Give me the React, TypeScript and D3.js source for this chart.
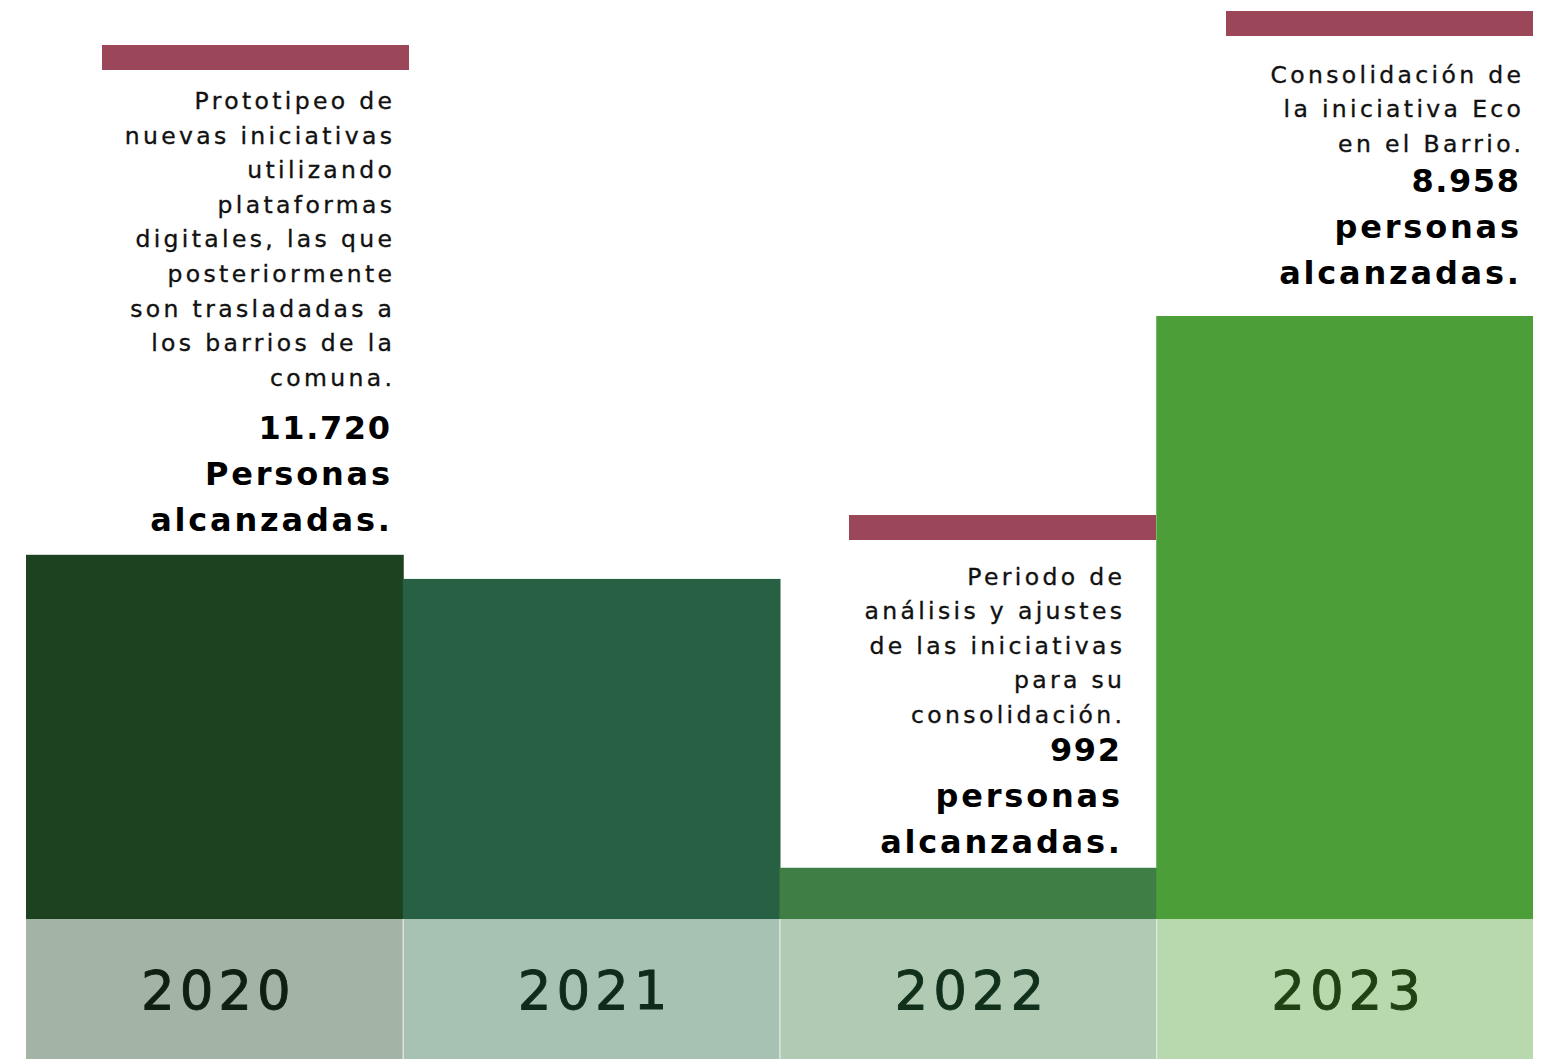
import React from 'react';
import * as d3 from 'd3';

// ---------- data ----------
const years = ['2020', '2021', '2022', '2023'];
// bar heights as drawn (relative, % of the tallest bar)
const barLevels = [60.4, 56.4, 8.5, 100];
// people reached (null = not reported)
const reached: (number | null)[] = [11720, null, 992, 8958];
const reachedWord = ['Personas', '', 'personas', 'personas'];
const reachedTail = 'alcanzadas.';
const descriptions: string[][] = [
  ['Prototipeo de', 'nuevas iniciativas', 'utilizando', 'plataformas', 'digitales, las que', 'posteriormente', 'son trasladadas a', 'los barrios de la', 'comuna.'],
  [],
  ['Periodo de', 'análisis y ajustes', 'de las iniciativas', 'para su', 'consolidación.'],
  ['Consolidación de', 'la iniciativa Eco', 'en el Barrio.'],
];

// ---------- styles ----------
const barColors = ['#1c4220', '#276043', '#3f7f46', '#4c9e38'];
const baseColors = ['#a3b3a5', '#a7c1b3', '#b1cab4', '#b8d8ae'];
const yearColors = ['#0f2011', '#0f2a1b', '#11301c', '#1e4214'];
const accent = '#9c4759';
const FONT = "'DejaVu Sans', 'Lato', sans-serif";

// ---------- layout ----------
const W = 1548;
const H = 1059;
const baseY = 919;
const topY = 316;
const noteLayout: Record<string, { barX: number; barY: number; right: number; first: number; bold: number }> = {
  '2020': { barX: 102, barY: 45, right: 392, first: 109, bold: 439 },
  '2022': { barX: 849, barY: 515, right: 1122, first: 584.5, bold: 761 },
  '2023': { barX: 1226, barY: 11, right: 1521, first: 82.5, bold: 192 },
};

const locale = d3.formatLocale({ decimal: ',', thousands: '.', grouping: [3], currency: ['', ''] });
const fmt = locale.format(',d');

export default function App() {
  const x = d3.scaleBand<string>().domain(years).range([26, 1533]).padding(0);
  const y = d3.scaleLinear().domain([0, 100]).range([baseY, topY]);

  const regLS = 3.35;
  const boldLS = 2.8;
  const numLS = 1.6;
  const yearLS = 5;

  return (
    <svg
      width={W}
      height={H}
      viewBox={`0 0 ${W} ${H}`}
      style={{ position: 'absolute', left: 0, top: 0, display: 'block', background: '#ffffff' }}
    >
      <rect x={0} y={0} width={W} height={H} fill="#ffffff" />
      {/* bars */}
      {years.map((yr, i) => (
        <rect
          key={'bar' + yr}
          x={x(yr)!}
          y={y(barLevels[i])}
          width={x.bandwidth() + (i < years.length - 1 ? 1 : 0)}
          height={baseY - y(barLevels[i])}
          fill={barColors[i]}
        />
      ))}
      {/* base band */}
      {years.map((yr, i) => (
        <rect key={'base' + yr} x={x(yr)!} y={baseY} width={x.bandwidth()} height={H - baseY} fill={baseColors[i]} />
      ))}
      {years.slice(1).map((yr) => (
        <line key={'sep' + yr} x1={x(yr)! + 0.5} x2={x(yr)! + 0.5} y1={baseY} y2={H} stroke="#e4eee4" strokeWidth={1} />
      ))}
      {years.map((yr, i) => (
        <text
          key={'yr' + yr}
          x={x(yr)! + x.bandwidth() / 2 + 1.5 + yearLS / 2}
          y={1009}
          textAnchor="middle"
          fontFamily={FONT}
          fontSize={53}
          letterSpacing={yearLS}
          fill={yearColors[i]}
          stroke={yearColors[i]}
          strokeWidth={0.9}
        >
          {yr}
        </text>
      ))}
      {/* annotations */}
      {years.map((yr, i) => {
        const L = noteLayout[yr];
        if (!L) return null;
        const boldLines = reached[i] != null ? [fmt(reached[i] as number), reachedWord[i], reachedTail] : [];
        return (
          <g key={'note' + yr}>
            <rect x={L.barX} y={L.barY} width={307} height={25} fill={accent} />
            {descriptions[i].map((t, j) => (
              <text
                key={j}
                x={L.right + regLS}
                y={L.first + j * 34.6}
                textAnchor="end"
                fontFamily={FONT}
                fontSize={23.5}
                letterSpacing={regLS}
                fill="#111111"
                stroke="#111111"
                strokeWidth={0.35}
              >
                {t}
              </text>
            ))}
            {boldLines.map((t, j) => {
              const ls = j === 0 ? numLS : boldLS;
              return (
                <text
                  key={'b' + j}
                  x={L.right - 2 + ls}
                  y={L.bold + j * 46}
                  textAnchor="end"
                  fontFamily={FONT}
                  fontSize={32}
                  fontWeight={700}
                  letterSpacing={ls}
                  fill="#000000"
                >
                  {t}
                </text>
              );
            })}
          </g>
        );
      })}
    </svg>
  );
}
